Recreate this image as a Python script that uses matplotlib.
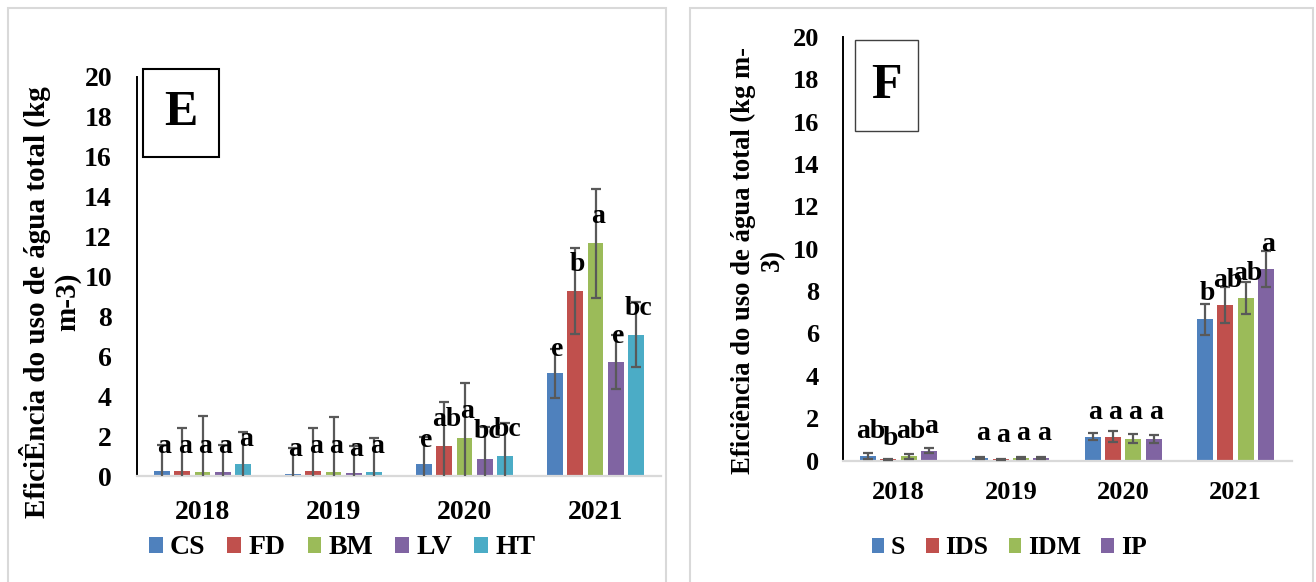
import matplotlib

matplotlib.use("Agg")
import matplotlib.pyplot as plt
import numpy as np
from matplotlib.patches import Rectangle

plt.rcParams["font.family"] = ["Liberation Serif", "DejaVu Serif"]
plt.rcParams["font.weight"] = "bold"
FS = 20

YEARS = ["2018", "2019", "2020", "2021"]
COLORS5 = ["#4F81BD", "#C0504D", "#9BBB59", "#8064A2", "#4BACC6"]

# Panel E
E_SERIES = ["CS", "FD", "BM", "LV", "HT"]
E_CS = [0.25, 0.12, 0.60, 5.15]
E_FD = [0.25, 0.25, 1.52, 9.27]
E_BM = [0.22, 0.22, 1.92, 11.66]
E_LV = [0.20, 0.13, 0.85, 5.73]
E_HT = [0.58, 0.20, 1.02, 7.08]
E_CS_ERR = [1.30, 1.30, 1.37, 1.23]
E_FD_ERR = [2.17, 2.15, 2.17, 2.17]
E_BM_ERR = [2.78, 2.75, 2.76, 2.74]
E_LV_ERR = [1.35, 1.35, 1.62, 1.35]
E_HT_ERR = [1.64, 1.69, 1.65, 1.64]
E_LETTERS = [["a", "a", "a", "a", "a"],
             ["a", "a", "a", "a", "a"],
             ["e", "ab", "a", "bc", "bc"],
             ["e", "b", "a", "e", "bc"]]
E_LETTER_Y = [[1.47, 1.47, 1.47, 1.47, 1.84],
              [1.35, 1.47, 1.47, 1.35, 1.47],
              [1.80, 2.81, 3.22, 2.22, 2.31],
              [6.32, 10.58, 13.0, 6.98, 8.40]]

# Panel F
F_SERIES = ["S", "IDS", "IDM", "IP"]
F_S = [0.22, 0.11, 1.13, 6.67]
F_IDS = [0.05, 0.05, 1.13, 7.33]
F_IDM = [0.19, 0.13, 1.02, 7.69]
F_IP = [0.46, 0.10, 1.02, 9.06]
F_S_ERR = [0.13, 0.04, 0.15, 0.74]
F_IDS_ERR = [0.02, 0.02, 0.26, 0.86]
F_IDM_ERR = [0.10, 0.05, 0.21, 0.75]
F_IP_ERR = [0.12, 0.05, 0.20, 0.85]
F_LETTERS = [["ab", "b", "ab", "a"],
             ["a", "a", "a", "a"],
             ["a", "a", "a", "a"],
             ["b", "ab", "ab", "a"]]
F_LETTER_Y = [[1.36, 1.05, 1.36, 1.60],
              [1.28, 1.16, 1.28, 1.28],
              [2.26, 2.26, 2.26, 2.26],
              [7.90, 8.52, 8.84, 10.22]]

W, H = 1316, 582


def fig_rect(x0, y0, x1, y1):
    """pixel box (top-left origin) -> figure fraction rect"""
    return [x0 / W, 1 - y1 / H, (x1 - x0) / W, (y1 - y0) / H]


def draw_panel(ax, series, values, errors, letters, letter_y, pitch, width, ypad, xpad, tick_fs):
    n = len(series)
    x = np.arange(len(YEARS))
    for i, (name, vals, errs) in enumerate(zip(series, values, errors)):
        off = (i - (n - 1) / 2) * pitch
        ax.bar(x + off, vals, width, color=COLORS5[i], label=name, zorder=2)
        ax.errorbar(x + off, vals, yerr=errs, fmt="none", ecolor="#595959",
                    elinewidth=1.6, capsize=3.8, capthick=1.6, zorder=3)
    for g in range(len(YEARS)):
        for i in range(n):
            off = (i - (n - 1) / 2) * pitch
            ax.text(g + off + 0.02, letter_y[g][i], letters[g][i], ha="center", va="center",
                    fontsize=FS, fontweight="bold", zorder=4)
    ax.set_xlim(-0.5, len(YEARS) - 0.5)
    ax.set_ylim(0, 20)
    ax.set_yticks(range(0, 21, 2))
    ax.set_xticks(x)
    ax.set_xticklabels(YEARS, fontweight="bold")
    ax.tick_params(axis="y", length=0, pad=ypad, labelsize=tick_fs)
    ax.tick_params(axis="x", length=0, pad=xpad, labelsize=tick_fs)
    for lab in ax.get_yticklabels():
        lab.set_fontweight("bold")
    ax.spines["top"].set_visible(False)
    ax.spines["right"].set_visible(False)
    ax.spines["left"].set_color("black")
    ax.spines["left"].set_linewidth(1.4)
    ax.spines["bottom"].set_color("#d9d9d9")
    ax.spines["bottom"].set_linewidth(1.6)
    ax.patch.set_alpha(0)


fig = plt.figure(figsize=(W / 100, H / 100), dpi=100)

# panel frames
for x0, x1 in ((8, 666), (690, 1313)):
    fig.add_artist(Rectangle((x0 / W, -0.05), (x1 - x0) / W, 1 - 8 / H + 0.05,
                             transform=fig.transFigure, fill=False, edgecolor="#d9d9d9", linewidth=1.5))

axE = fig.add_axes(fig_rect(137, 77, 661, 476))
draw_panel(axE, E_SERIES, [E_CS, E_FD, E_BM, E_LV, E_HT],
           [E_CS_ERR, E_FD_ERR, E_BM_ERR, E_LV_ERR, E_HT_ERR],
           E_LETTERS, E_LETTER_Y, 0.155, 0.122, 18, 17, 20)

axF = fig.add_axes(fig_rect(842.5, 37, 1291.5, 460.5))
draw_panel(axF, F_SERIES, [F_S, F_IDS, F_IDM, F_IP],
           [F_S_ERR, F_IDS_ERR, F_IDM_ERR, F_IP_ERR],
           F_LETTERS, F_LETTER_Y, 0.181, 0.142, 17, 15, 19)

# y labels
fig.text(50 / W, 1 - 302 / H, "EficiÊncia do uso de água total (kg\nm-3)", rotation=90,
         ha="center", va="center", multialignment="center", fontsize=21, fontweight="bold",
         linespacing=1.15)
fig.text(758 / W, 1 - 260 / H, "Eficiência do uso de água total (kg m-\n3)", rotation=90,
         ha="center", va="center", multialignment="center", fontsize=19.2, fontweight="bold",
         linespacing=1.2)

# panel letter boxes
fig.add_artist(Rectangle(((142.7) / W, 1 - 156.7 / H), 76 / W, 87.4 / H, transform=fig.transFigure,
                         fill=False, edgecolor="black", linewidth=1.5))
fig.text(180.7 / W, 1 - 113 / H, "E", ha="center", va="center", fontsize=36, fontweight="bold")
fig.add_artist(Rectangle((854.7 / W, 1 - 131 / H), 63.3 / W, 91 / H, transform=fig.transFigure,
                         fill=False, edgecolor="#404040", linewidth=1.0))
fig.text(886.3 / W, 1 - 85.5 / H, "F", ha="center", va="center", fontsize=36, fontweight="bold")

# legends
for ax, cx, lfs in ((axE, 342, 20), (axF, 1009, 18.5)):
    h, l = ax.get_legend_handles_labels()
    h = [hh.patches[0] if hasattr(hh, "patches") else hh for hh in h]
    leg = fig.legend(h, l, loc="center", bbox_to_anchor=(cx / W, 1 - 548 / H), ncol=len(l),
                     frameon=False, fontsize=lfs, handlelength=0.5, handleheight=0.5,
                     handletextpad=0.25, columnspacing=0.8, borderaxespad=0)
    for t in leg.get_texts():
        t.set_fontweight("bold")

fig.savefig("out.png", dpi=100)
